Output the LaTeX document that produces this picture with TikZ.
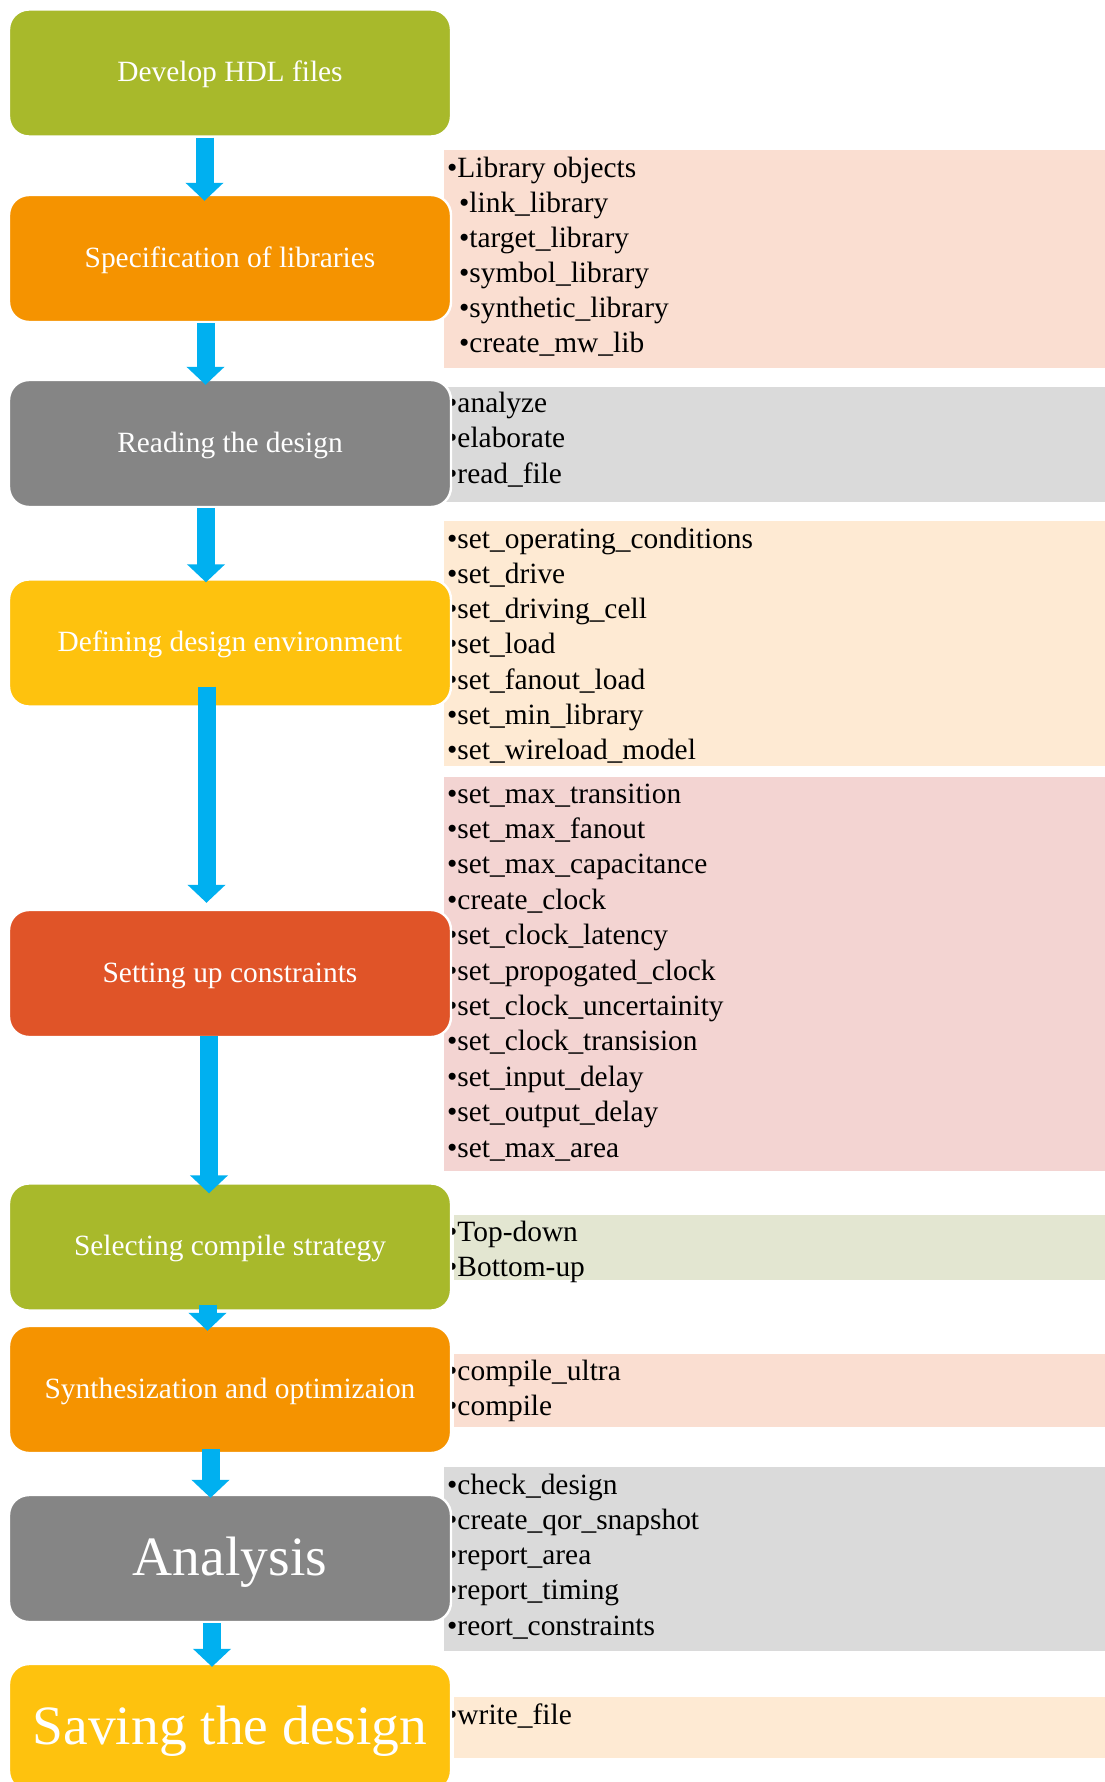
\documentclass[tikz,border=0pt]{standalone}
\usepackage{fontspec}
\setmainfont{Liberation Serif}
\usetikzlibrary{arrows.meta,calc}

% stage fills
\definecolor{hdlgreen}{HTML}{A8B92B}
\definecolor{liborange}{HTML}{F59300}
\definecolor{readgray}{HTML}{858585}
\definecolor{envyellow}{HTML}{FEC20E}
\definecolor{consred}{HTML}{E05428}
\definecolor{flowblue}{HTML}{00B0F0}
% command panel fills
\definecolor{peach}{HTML}{FADED1}
\definecolor{lightgray}{HTML}{DADADA}
\definecolor{cream}{HTML}{FEEAD3}
\definecolor{rose}{HTML}{F3D4D2}
\definecolor{sage}{HTML}{E3E6D1}

\tikzset{
  stage/.style={draw=white, line width=2.4pt, fill=#1, rounded corners=20pt,
    minimum width=442pt, minimum height=127pt, inner sep=0pt, text=white,
    text height=20pt, text depth=2.6pt,
    font=\fontsize{29.4}{35}\selectfont},
  bigstage/.style={stage=#1, text height=36pt, text depth=3pt,
    font=\fontsize{55.5}{66}\selectfont},
  item/.style={anchor=base west, inner sep=0pt, text=black,
    font=\fontsize{29.4}{35}\selectfont},
  flow/.style={draw=flowblue, line width=18pt,
    -{Triangle[width=37pt,length=18pt]}},
}

\begin{document}
\begin{tikzpicture}[x=1pt,y=-1pt]
\useasboundingbox (0,0) rectangle (1105,1782);
\clip (0,0) rectangle (1105,1782);
\fill[white] (0,0) rectangle (1105,1782);

% command panels
\fill[peach]     (444,150)  rectangle (1105,368);
\fill[lightgray] (444,387)  rectangle (1105,502);
\fill[cream]     (444,521)  rectangle (1105,766);
\fill[rose]      (444,777)  rectangle (1105,1171);
\fill[sage]      (454,1215) rectangle (1105,1280);
\fill[peach]     (454,1354) rectangle (1105,1427);
\fill[lightgray] (444,1467) rectangle (1105,1651);
\fill[cream]     (454,1697) rectangle (1105,1758);

% library commands
\node[item] (lib0) at (447,177) {•Library objects};
\foreach \t [count=\i] in {link\_library, target\_library, symbol\_library,
    synthetic\_library, create\_mw\_lib}
  \node[item] (lib\i) at (459,{177+35*\i}) {•\t};

% reading commands
\foreach \t [count=\i] in {analyze, elaborate, read\_file}
  \node[item] (rd\i) at (447,{376.5+35.5*\i}) {•\t};

% environment commands
\foreach \t [count=\i] in {set\_operating\_conditions, set\_drive,
    set\_driving\_cell, set\_load, set\_fanout\_load, set\_min\_library,
    set\_wireload\_model}
  \node[item] (env\i) at (447,{512.7+35.3*\i}) {•\t};

% constraint commands
\foreach \t [count=\i] in {set\_max\_transition, set\_max\_fanout,
    set\_max\_capacitance, create\_clock, set\_clock\_latency,
    set\_propogated\_clock, set\_clock\_uncertainity, set\_clock\_transision,
    set\_input\_delay, set\_output\_delay, set\_max\_area}
  \node[item] (con\i) at (447,{767.6+35.4*\i}) {•\t};

% compile strategies
\node[item] (st1) at (447,1241) {•Top-down};
\node[item] (st2) at (447,1276.5) {•Bottom-up};

% compile commands
\node[item] (cmp1) at (447,1380) {•compile\_ultra};
\node[item] (cmp2) at (447,1415) {•compile};

% analysis commands
\foreach \t [count=\i] in {check\_design, create\_qor\_snapshot, report\_area,
    report\_timing, reort\_constraints}
  \node[item] (an\i) at (447,{1458.8+35.25*\i}) {•\t};

% saving command
\node[item] (sv1) at (447,1724) {•write\_file};

% flow stages
\node[stage=hdlgreen]  (b1) at (230,73)     {Develop HDL files};
\node[stage=liborange] (b2) at (230,258.5)  {Specification of libraries};
\node[stage=readgray]  (b3) at (230,443.5)  {Reading the design};
\node[stage=envyellow] (b4) at (230,643)    {Defining design environment};
\node[stage=consred]   (b5) at (230,973.5)  {Setting up constraints};
\node[stage=hdlgreen]  (b6) at (230,1247)   {Selecting compile strategy};
\node[stage=liborange] (b7) at (230,1389.5) {Synthesization and optimizaion};
\node[bigstage=readgray]  (b8) at (230,1558.5) {Analysis};
\node[bigstage=envyellow] (b9) at (230,1727.5) {Saving the design};

% flow arrows
\draw[flow] ($(b1.south)+(-25.5,0)$) -- ($(b2.north)+(-25.5,7)$);
\draw[flow] ($(b2.south)+(-24.5,0)$) -- ($(b3.north)+(-24.5,6)$);
\draw[flow] ($(b3.south)+(-24,0)$)   -- ($(b4.north)+(-24,4)$);
\draw[flow] ($(b4.south)+(-23.5,-21)$) -- ($(b5.north)+(-23.5,-6)$);
\draw[flow] ($(b5.south)+(-21,-2)$)  -- ($(b6.north)+(-21,11)$);
\draw[flow] ($(b6.south)+(-22.5,-7)$) -- ($(b7.north)+(-22.5,6)$);
\draw[flow] ($(b7.south)+(-19.5,-5)$) -- ($(b8.north)+(-19.5,4)$);
\draw[flow] ($(b8.south)+(-18,0)$)   -- ($(b9.north)+(-18,4)$);
\end{tikzpicture}
\end{document}
